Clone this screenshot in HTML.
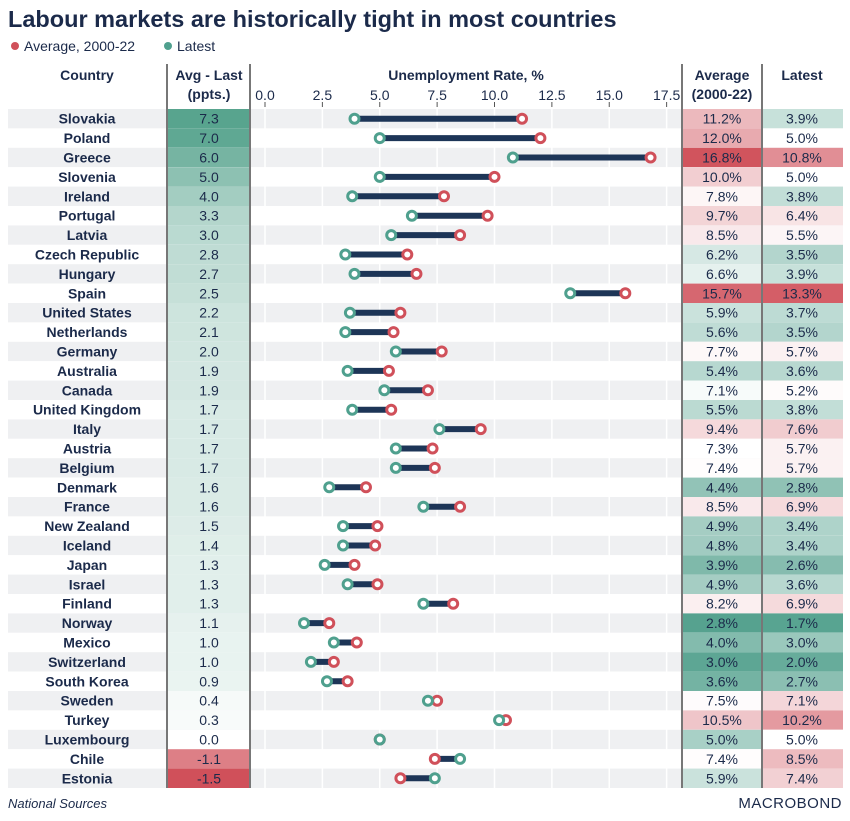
<!DOCTYPE html>
<html><head><meta charset="utf-8">
<style>
body{margin:0;background:#fff;width:850px;height:821px;overflow:hidden;font-family:"Liberation Sans",sans-serif;}
svg{display:block}
</style></head>
<body>
<svg id="chart" width="850" height="821" viewBox="0 0 850 821" xmlns="http://www.w3.org/2000/svg">
<text x="8" y="27" font-size="23.5" font-weight="bold" fill="#1b2a4a">Labour markets are historically tight in most countries</text>
<g>
<circle cx="15" cy="46" r="4" fill="#d0505a"/>
<text x="24" y="51" font-size="14" fill="#1b2a4a">Average, 2000-22</text>
<circle cx="168" cy="46" r="4" fill="#4fa08e"/>
<text x="177" y="51" font-size="14" fill="#1b2a4a">Latest</text>
</g>
<g font-size="14" font-weight="bold" fill="#1b2a4a" text-anchor="middle">
<text x="87" y="80">Country</text>
<text x="209" y="80">Avg - Last</text>
<text x="209" y="99">(ppts.)</text>
<text x="466" y="80">Unemployment Rate, %</text>
<text x="722" y="80">Average</text>
<text x="722" y="99">(2000-22)</text>
<text x="802" y="80">Latest</text>
</g>
<g id="rows"></g>
<g id="axis"></g>
<g id="marks"></g>
<line x1="167" y1="64" x2="167" y2="788" stroke="#777" stroke-width="2"/>
<line x1="250" y1="64" x2="250" y2="788" stroke="#777" stroke-width="2"/>
<line x1="682" y1="64" x2="682" y2="788" stroke="#777" stroke-width="2"/>
<line x1="762" y1="64" x2="762" y2="788" stroke="#777" stroke-width="2"/>
<text x="8" y="808" font-size="13" font-style="italic" fill="#1b2a4a">National Sources</text>
<text x="842" y="808" font-size="15" fill="#1b2a4a" text-anchor="end" letter-spacing="0.5">MACROBOND</text>
</svg>
<script>
const countries=["Slovakia","Poland","Greece","Slovenia","Ireland","Portugal","Latvia","Czech Republic","Hungary","Spain","United States","Netherlands","Germany","Australia","Canada","United Kingdom","Italy","Austria","Belgium","Denmark","France","New Zealand","Iceland","Japan","Israel","Finland","Norway","Mexico","Switzerland","South Korea","Sweden","Turkey","Luxembourg","Chile","Estonia"];
const averages=[11.2,12.0,16.8,10.0,7.8,9.7,8.5,6.2,6.6,15.7,5.9,5.6,7.7,5.4,7.1,5.5,9.4,7.3,7.4,4.4,8.5,4.9,4.8,3.9,4.9,8.2,2.8,4.0,3.0,3.6,7.5,10.5,5.0,7.4,5.9];
const latest=[3.9,5.0,10.8,5.0,3.8,6.4,5.5,3.5,3.9,13.3,3.7,3.5,5.7,3.6,5.2,3.8,7.6,5.7,5.7,2.8,6.9,3.4,3.4,2.6,3.6,6.9,1.7,3.0,2.0,2.7,7.1,10.2,5.0,8.5,7.4];
const diffs=["7.3","7.0","6.0","5.0","4.0","3.3","3.0","2.8","2.7","2.5","2.2","2.1","2.0","1.9","1.9","1.7","1.7","1.7","1.7","1.6","1.6","1.5","1.4","1.3","1.3","1.3","1.1","1.0","1.0","0.9","0.4","0.3","0.0","-1.1","-1.5"];
const ticks=[0,2.5,5,7.5,10,12.5,15,17.5];

const NS="http://www.w3.org/2000/svg";
const x=v=>265+v*22.95;
const rowTop=i=>109+i*19.4;
const rowH=19.4;
function mk(tag,attrs,parent){const e=document.createElementNS(NS,tag);for(const k in attrs)e.setAttribute(k,attrs[k]);parent.appendChild(e);return e;}
function mix(a,b,t){t=Math.max(0,Math.min(1,t));return "rgb("+a.map((c,i)=>Math.round(c+(b[i]-c)*t)).join(",")+")";}
const W=[255,255,255],TE=[78,158,138],RE=[208,80,90];
function div(v,c,lo,hi){return v<c?mix(W,TE,(c-v)/(c-lo)):mix(W,RE,(v-c)/(hi-c));}

const rows=document.getElementById('rows'),axis=document.getElementById('axis'),marks=document.getElementById('marks');
countries.forEach((c,i)=>{
  const y=rowTop(i),cy=y+rowH/2;
  const bg=mk('rect',{x:8,y:y,width:835,height:rowH,fill:i%2===0?"#eff0f2":"#ffffff"},rows);
  
  
  const t=mk('text',{x:87,y:cy+5,"font-size":14,"font-weight":"bold",fill:"#1b2a4a","text-anchor":"middle"},rows);
  t.textContent=c;
  
  
  const d=parseFloat(diffs[i]);
  const dc=mk('rect',{x:167,y:y,width:83,height:rowH,fill:d>=0?mix(W,[88,164,142],d/7.3):mix(W,RE,-d/1.5)},rows);
  
  
  const dt=mk('text',{x:209,y:cy+5,"font-size":14,fill:"#1b2a4a","text-anchor":"middle"},rows);
  dt.textContent=diffs[i];
  
  
  const ac=mk('rect',{x:682,y:y,width:80,height:rowH,fill:div(averages[i],7.3,2.6,17)},rows);
  
  
  const at=mk('text',{x:722,y:cy+5,"font-size":14,fill:"#1b2a4a","text-anchor":"middle"},rows);
  at.textContent=averages[i].toFixed(1)+"%";
  
  
  const lc=mk('rect',{x:762,y:y,width:81,height:rowH,fill:div(latest[i],5.0,1.5,14)},rows);
  
  
  const lt=mk('text',{x:802,y:cy+5,"font-size":14,fill:"#1b2a4a","text-anchor":"middle"},rows);
  lt.textContent=latest[i].toFixed(1)+"%";
  
  
});
ticks.forEach(v=>{
  const g=mk('line',{x1:x(v),x2:x(v),y1:109,y2:788,stroke:"#ffffff","stroke-width":1.5},axis);
  
  
  const tk=mk('line',{x1:x(v),x2:x(v),y1:102,y2:107,stroke:"#555","stroke-width":1},axis);
  
  
  const tl=mk('text',{x:x(v),y:100,"font-size":14,fill:"#1b2a4a","text-anchor":"middle"},axis);
  tl.textContent=v.toFixed(1);
  
  
});
countries.forEach((c,i)=>{
  const cy=rowTop(i)+rowH/2;
  const ln=mk('line',{x1:x(latest[i]),x2:x(averages[i]),y1:cy,y2:cy,stroke:"#1d3557","stroke-width":6},marks);
  
  
  const a=mk('circle',{cx:x(averages[i]),cy:cy,r:4.5,fill:"#fff",stroke:"#d0505a","stroke-width":3},marks);
  
  
  const l=mk('circle',{cx:x(latest[i]),cy:cy,r:4.5,fill:"#fff",stroke:"#4fa08e","stroke-width":3},marks);
  
  
});
</script>
</body></html>
